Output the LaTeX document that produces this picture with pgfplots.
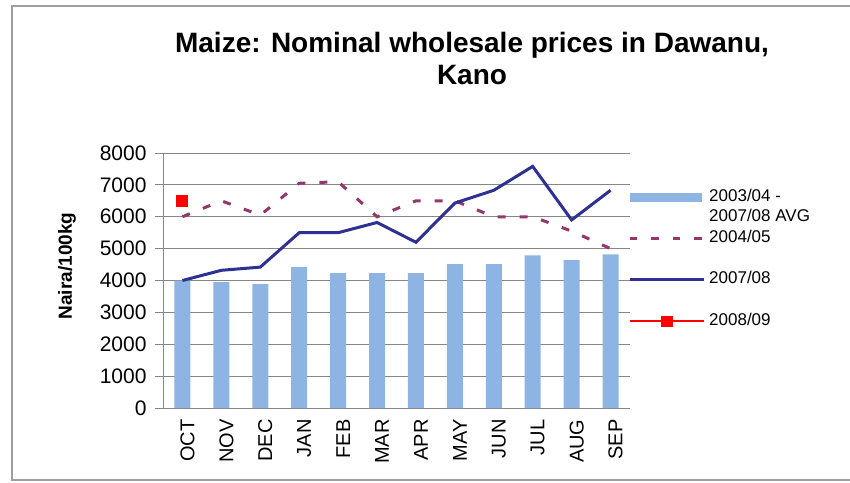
\documentclass[border=0pt]{standalone}
\usepackage{pgfplots}
\pgfplotsset{compat=1.18}
\usepackage{fontspec}
\setmainfont{Liberation Sans}
\definecolor{barblue}{RGB}{141,180,226}
\definecolor{dashred}{RGB}{149,55,106}
\definecolor{lineblue}{RGB}{46,49,146}
\definecolor{gridgray}{RGB}{134,134,134}
\pgfplotsset{
  dash legend/.style={legend image code/.code={\draw[dashred, line width=3pt, dash pattern=on 7.5pt off 14pt] (0pt,0pt) -- (74pt,0pt);}},
  solid legend/.style={legend image code/.code={\draw[lineblue, line width=3pt] (0pt,0pt) -- (74pt,0pt);}},
  markline legend/.style={legend image code/.code={\draw[red, line width=2pt] (0pt,0pt) -- (74pt,0pt); \fill[red] (32pt,-4.5pt) rectangle (42pt,4.5pt);}},
  bar legend/.style={legend image code/.code={\fill[barblue] (0pt,-4.5pt) rectangle (72pt,4.5pt);}},
}
\begin{document}
\begin{tikzpicture}[x=1pt,y=1pt]
\useasboundingbox (0,0) rectangle (850,482);
\draw[gray!75, line width=1.3pt] (850,476) -- (12,476) -- (12,2) -- (850,2);
\begin{axis}[
  at={(163pt,74pt)}, anchor=south west,
  scale only axis, width=467pt, height=255pt,
  xmin=-0.5, xmax=11.5, ymin=0, ymax=8000,
  ytick={0,1000,...,8000},
  xtick={0,...,11},
  xticklabels={OCT,NOV,DEC,JAN,FEB,MAR,APR,MAY,JUN,JUL,AUG,SEP},
  axis x line*=bottom, axis y line*=left,
  axis line style={gridgray, line width=1pt},
  ymajorgrids, major grid style={gridgray, line width=0.9pt},
  tick align=outside, major tick length=8pt,
  ytick style={gridgray, line width=0.9pt},
  xtick style={draw=none},
  /pgf/number format/1000 sep={},
  /pgf/number format/assume math mode=true,
  yticklabel style={font=\fontsize{21}{21}\selectfont, xshift=-5pt},
  xticklabel style={rotate=90, anchor=east, font=\fontsize{20}{20}\selectfont, yshift=-5pt},
  ylabel={Naira/100kg},
  every axis y label/.style={at={(axis description cs:-0.2056,0.557)}, rotate=90, anchor=center, font=\bfseries\fontsize{19}{19}\selectfont},
  title={Maize: Nominal wholesale prices in Dawanu,\\Kano},
  title style={at={(axis description cs:0.6617,1)}, anchor=south, yshift=59pt, align=center, font=\bfseries\fontsize{28}{32}\selectfont},
  legend cell align=left,
  legend style={at={(axis description cs:0.9957,0.855)}, anchor=north west, draw=none, fill=none, inner sep=0pt,
    font=\fontsize{17}{17}\selectfont, row sep=6.7pt,
    nodes={inner sep=0pt, text height=11pt, text depth=3pt},
    /tikz/every odd column/.append style={column sep=4pt}},
]
\addplot[ybar, bar width=16pt, fill=barblue, draw=none, bar legend]
  coordinates {(0,4000) (1,3950) (2,3890) (3,4420) (4,4230) (5,4230) (6,4230) (7,4510) (8,4510) (9,4790) (10,4640) (11,4820)};
\addlegendentry{2003/04 -}
\addlegendimage{empty legend}
\addlegendentry{2007/08 AVG}
\addplot[dashred, line width=3pt, dash pattern=on 8pt off 14pt, mark=none, dash legend]
  coordinates {(0,6000) (1,6500) (2,6050) (3,7050) (4,7100) (5,6000) (6,6500) (7,6500) (8,6000) (9,6000) (10,5550) (11,5000)};
\addlegendentry{2004/05}
\addlegendimage{empty legend}
\addlegendentry{}
\addplot[lineblue, line width=3pt, mark=none, solid legend]
  coordinates {(0,4000) (1,4320) (2,4420) (3,5500) (4,5500) (5,5820) (6,5200) (7,6430) (8,6830) (9,7580) (10,5900) (11,6830)};
\addlegendentry{2007/08}
\addlegendimage{empty legend}
\addlegendentry{}
\addplot[red, line width=2pt, mark=square*, mark size=5pt, mark options={solid}, markline legend]
  coordinates {(0,6500)};
\addlegendentry{2008/09}
\end{axis}
\end{tikzpicture}
\end{document}
